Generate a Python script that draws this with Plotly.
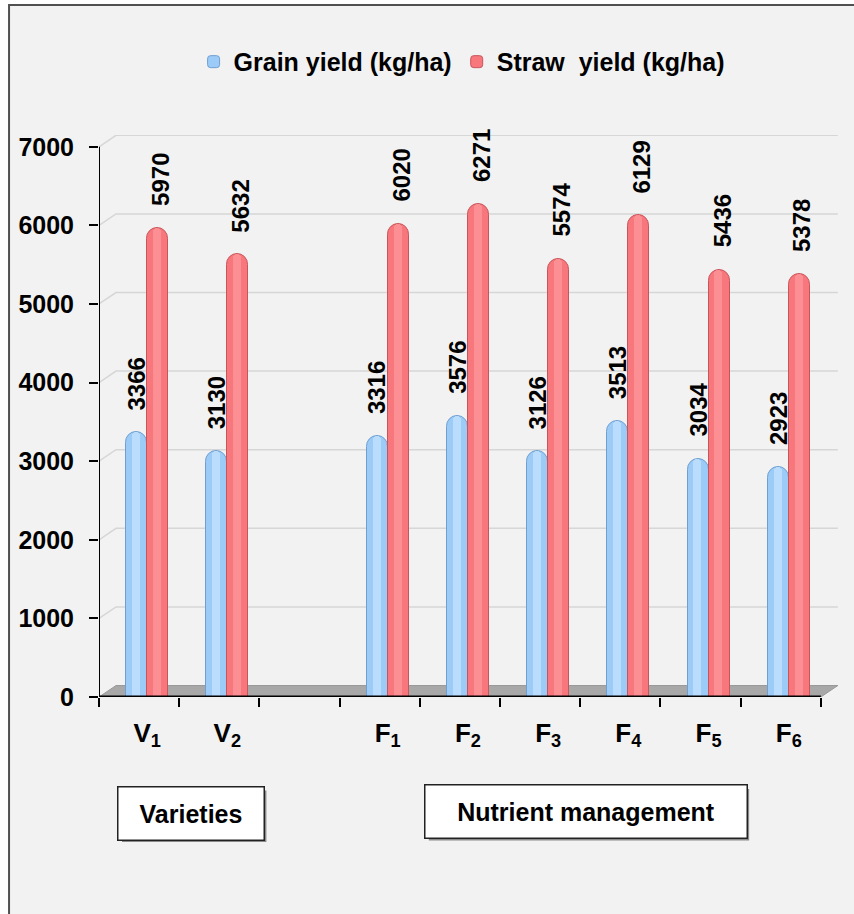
import plotly.graph_objects as go

# ---------------- data ----------------
varieties = ["V<sub>1</sub>", "V<sub>2</sub>"]
nutrients = ["F<sub>1</sub>", "F<sub>2</sub>", "F<sub>3</sub>",
             "F<sub>4</sub>", "F<sub>5</sub>", "F<sub>6</sub>"]
grain_var = [3366, 3130]
straw_var = [5970, 5632]
grain_nut = [3316, 3576, 3126, 3513, 3034, 2923]
straw_nut = [6020, 6271, 5574, 6129, 5436, 5378]
y_ticks = [0, 1000, 2000, 3000, 4000, 5000, 6000, 7000]
series_names = ["Grain yield (kg/ha)", "Straw\u00a0 yield (kg/ha)"]
group_names = ["Varieties", "Nutrient management"]

# slots along the axis (empty slot separates the two groups)
slots = varieties + [""] + nutrients
pos = list(range(len(slots)))
x_used = [p for p, s in zip(pos, slots) if s]
lab_used = [s for s in slots if s]
grain = grain_var + grain_nut
straw = straw_var + straw_nut

FONT = "Liberation Sans, Arial, sans-serif"
W, H = 854, 914
ML, MR, MT = 99, 15.6, 135
PH = 562
MB = H - MT - PH
PW = W - ML - MR
BW = 0.262          # bar width (x units)
X0, X1 = -0.6, len(slots) - 0.6     # axis extent
DX, DY = 0.212, 146                 # pseudo-3D depth offset
XR = [X0, X1 + DX + 0.002]
YR = [0, 7150]

fig = go.Figure()

blue, blue_hi, blue_ln = "#9ccbf7", "#c4e2ff", "#6f9fd0"
red, red_hi, red_ln = "#f7777c", "#ffa4a7", "#c8555a"

# main bars
fig.add_bar(x=x_used, y=grain, offset=-BW, width=BW, name=f"<b>{series_names[0]}</b>",
            marker=dict(color=blue, line=dict(color=blue_ln, width=1), cornerradius="50%"),
            hoverinfo="y")
fig.add_bar(x=x_used, y=straw, offset=0, width=BW, name=f"<b>{series_names[1]}</b>",
            marker=dict(color=red, line=dict(color=red_ln, width=1), cornerradius="50%"),
            hoverinfo="y")
# highlights for cylinder look
fig.add_bar(x=x_used, y=grain, offset=-BW * 0.72, width=BW * 0.38, showlegend=False,
            marker=dict(color=blue_hi, line=dict(width=0), cornerradius="50%", opacity=0.75),
            hoverinfo="skip")
fig.add_bar(x=x_used, y=straw, offset=BW * 0.28, width=BW * 0.38, showlegend=False,
            marker=dict(color=red_hi, line=dict(width=0), cornerradius="50%", opacity=0.55),
            hoverinfo="skip")

shapes = []
# outer frame / panel background (right and bottom edges run off the page)
shapes.append(dict(type="rect", xref="paper", yref="paper", x0=(9 - ML) / PW, x1=1.2,
                   y0=-0.6, y1=(MT + PH - 5) / PH, fillcolor="#f2f2f2",
                   line=dict(color="#505050", width=2), layer="below"))
# floor
shapes.append(dict(type="path", xref="x", yref="y", layer="below",
                   path=f"M{X0},0 L{X1},0 L{X1+DX},{DY} L{X0+DX},{DY} Z",
                   fillcolor="#a8a8a8", line=dict(color="#999999", width=1)))
# 3D gridlines
for v in y_ticks[1:]:
    shapes.append(dict(type="path", xref="x", yref="y", layer="below",
                       path=f"M{X0},{v} L{X0+DX},{v+DY} L{X1+DX},{v+DY}",
                       line=dict(color="#d6d6d6", width=1.5)))
# axis lines
shapes.append(dict(type="line", xref="x", yref="y", x0=X0, x1=X1, y0=0, y1=0,
                   line=dict(color="black", width=3), layer="above"))
shapes.append(dict(type="line", xref="x", yref="y", x0=X0, x1=X0, y0=0, y1=y_ticks[-1],
                   line=dict(color="black", width=2), layer="above"))

annotations = []
# value labels
for xv, v in zip(x_used, grain):
    annotations.append(dict(x=xv - BW / 2, y=v, xref="x", yref="y", text=f"<b>{v}</b>",
                            showarrow=False, textangle=-90, yanchor="bottom",
                            yshift=20, font=dict(family=FONT, size=24, color="black")))
for xv, v in zip(x_used, straw):
    annotations.append(dict(x=xv + BW / 2, y=v, xref="x", yref="y", text=f"<b>{v}</b>",
                            showarrow=False, textangle=-90, yanchor="bottom", xshift=3,
                            yshift=20, font=dict(family=FONT, size=24, color="black")))
# group boxes
box_x = [0.1251, 0.6593]
box_y = [-0.2073, -0.2046]
box_w = [145, 321]
BH = 52
for name, bx, by, bw in zip(group_names, box_x, box_y, box_w):
    shapes.append(dict(type="rect", xref="paper", yref="paper",
                       x0=bx - (bw / 2 - 3) / PW, x1=bx + (bw / 2 + 2.5) / PW,
                       y0=by - (BH / 2 + 2.5) / PH, y1=by + (BH / 2 - 3) / PH,
                       fillcolor="#8a8a8a", line=dict(width=0), layer="below"))
    annotations.append(dict(x=bx, y=by, xref="paper", yref="paper", text=f"<b>{name}</b>",
                            xanchor="center", yanchor="middle",
                            showarrow=False, width=bw, height=BH, borderpad=0,
                            bgcolor="white", bordercolor="#222", borderwidth=1.5,
                            font=dict(family=FONT, size=25, color="black")))

fig.update_layout(
    width=W, height=H,
    margin=dict(l=ML, r=MR, t=MT, b=MB),
    paper_bgcolor="white", plot_bgcolor="rgba(0,0,0,0)",
    barmode="overlay", bargap=0,
    font=dict(family=FONT, color="black"),
    showlegend=True,
    legend=dict(orientation="h", x=0.128, xanchor="left", y=1.171, yanchor="top",
                bgcolor="rgba(0,0,0,0)", font=dict(family=FONT, size=25, color="black"),
                traceorder="normal", itemclick=False),
    shapes=shapes, annotations=annotations,
)
fig.update_xaxes(range=XR, showgrid=False, zeroline=False, showline=False,
                 tickmode="array", tickvals=x_used, ticktext=[f"<b>{t}</b>" for t in lab_used],
                 ticks="", tickfont=dict(family=FONT, size=26, color="black"),
                 ticklabelstandoff=18,
                 minor=dict(tickmode="array", tickvals=[X0 + k for k in range(len(slots) + 1)],
                            ticks="outside", ticklen=9, tickwidth=2, tickcolor="black",
                            showgrid=False))
fig.update_yaxes(range=YR, showgrid=False, zeroline=False, showline=False,
                 tickmode="array", tickvals=y_ticks, ticktext=[f"<b>{t}</b>" for t in y_ticks],
                 ticks="outside", ticklen=9, tickwidth=2, tickcolor="black",
                 tickfont=dict(family=FONT, size=25, color="black"), ticklabelstandoff=10)

fig.write_html("out.html", config={"displayModeBar": False},
               post_script="document.body.style.margin='0px';")
